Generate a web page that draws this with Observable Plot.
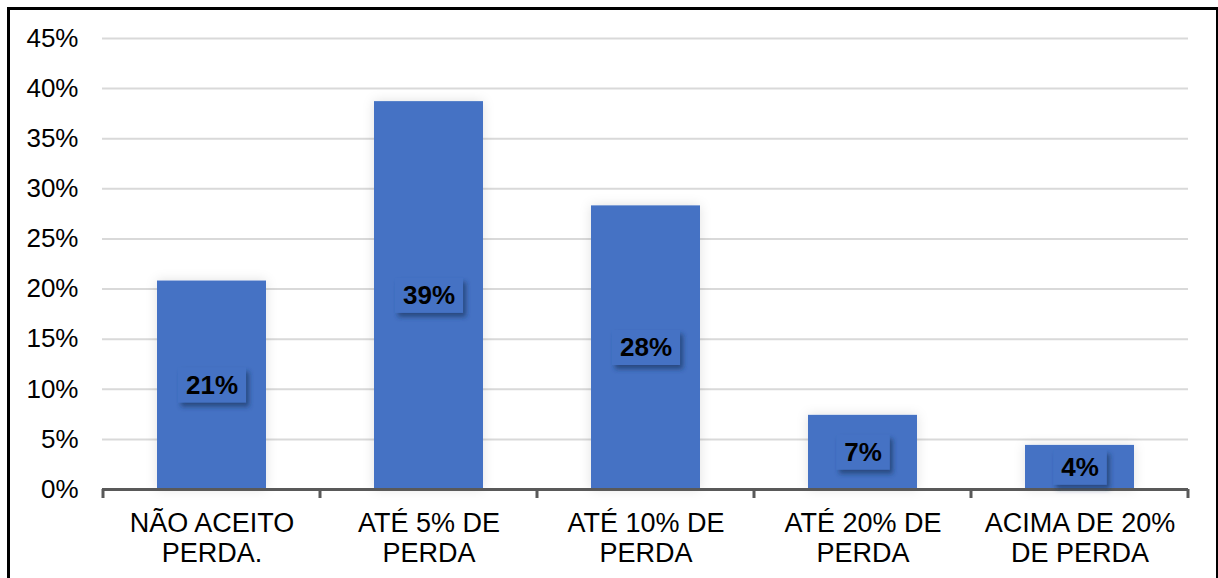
<!DOCTYPE html>
<html>
<head>
<meta charset="utf-8">
<script src="https://cdn.jsdelivr.net/npm/d3@7"></script>
<script src="https://cdn.jsdelivr.net/npm/@observablehq/plot@0.6"></script>
<style>
  html, body { margin: 0; padding: 0; background: #fff; }
  #wrap { position: relative; width: 1218px; height: 578px; overflow: hidden; }
  #frame { position: absolute; left: 7px; top: 7px; width: 1206px; height: 600px; border: 3px solid #000; pointer-events: none; }
  #chart svg { display: block; }
</style>
</head>
<body>
<div id="wrap"><div id="chart"></div><div id="frame"></div></div>
<script>
const categories = ["NÃO ACEITO PERDA.", "ATÉ 5% DE PERDA", "ATÉ 10% DE PERDA", "ATÉ 20% DE PERDA", "ACIMA DE 20% DE PERDA"];
const tickLabels = ["NÃO ACEITO\nPERDA.", "ATÉ 5% DE\nPERDA", "ATÉ 10% DE\nPERDA", "ATÉ 20% DE\nPERDA", "ACIMA DE 20%\nDE PERDA"];
const values = [20.8, 38.7, 28.3, 7.4, 4.4];
const valueLabels = ["21%", "39%", "28%", "7%", "4%"];
const yTicks = [0, 5, 10, 15, 20, 25, 30, 35, 40, 45];

const data = categories.map((c, i) => ({cat: c, v: values[i], label: valueLabels[i], tick: tickLabels[i]}));
const tickMap = new Map(categories.map((c, i) => [c, tickLabels[i]]));

const font = "'Liberation Sans', Arial, sans-serif";

// boundary tick marks below the x axis, positioned through the band scale
function boundaryTicks(index, scales, values, dimensions) {
  const x = scales.x;
  const step = x.step();
  const gap = (step - x.bandwidth()) / 2;
  const y0 = scales.y(0);
  const g = d3.create("svg:g");
  const bounds = categories.map(c => x(c) - gap);
  bounds.push(x(categories[categories.length - 1]) + x.bandwidth() + gap);
  for (const b of bounds) {
    g.append("line").attr("x1", b).attr("x2", b).attr("y1", y0).attr("y2", y0 + 9)
      .attr("stroke", "#595959").attr("stroke-width", 3);
  }
  return g.node();
}

const plot = Plot.plot({
  width: 1218,
  height: 578,
  marginLeft: 102,
  marginRight: 30,
  marginTop: 38,
  marginBottom: 89,
  style: {fontFamily: font, fontSize: "26px", color: "#000", background: "transparent"},
  x: {domain: categories, paddingInner: 0.5, paddingOuter: 0.25, label: null},
  y: {domain: [0, 45], label: null},
  marks: [
    Plot.gridY(yTicks, {stroke: "#d9d9d9", strokeOpacity: 1, strokeWidth: 2}),
    Plot.axisY(yTicks, {tickSize: 0, tickPadding: 24, tickFormat: d => d + "%", fontSize: 26, label: null}),
    Plot.barY(data, {x: "cat", y: "v", fill: "#4472C4", className: "bars"}),
    Plot.ruleY([0], {stroke: "#595959", strokeWidth: 3}),
    boundaryTicks,
    Plot.axisX({tickSize: 0, tickPadding: 21, tickFormat: d => tickMap.get(d), fontSize: 27, lineHeight: 1.12, label: null}),
    Plot.text(data, {x: "cat", y: d => d.v / 2, text: "label", fontSize: 26, fontWeight: "bold", fill: "#000", className: "vlabels"})
  ]
});

document.getElementById("chart").appendChild(plot);

// soft glow around bars
const svg = d3.select(plot);
const defs = svg.insert("defs", ":first-child");
const glow = defs.append("filter").attr("id", "glow").attr("x", "-30%").attr("y", "-30%").attr("width", "160%").attr("height", "160%");
glow.append("feDropShadow").attr("dx", 0).attr("dy", 0).attr("stdDeviation", 6).attr("flood-color", "#000").attr("flood-opacity", 0.12);
const shadow = defs.append("filter").attr("id", "shadow").attr("x", "-30%").attr("y", "-30%").attr("width", "170%").attr("height", "180%");
shadow.append("feDropShadow").attr("dx", 3).attr("dy", 4).attr("stdDeviation", 2.5).attr("flood-color", "#1f3864").attr("flood-opacity", 0.7);
svg.select("g.bars").attr("filter", "url(#glow)");

// label boxes behind value labels (same transform as the text)
svg.selectAll("g.vlabels text").each(function() {
  const bb = this.getBBox();
  const padX = 8;
  const r = d3.select(this.parentNode).insert("rect", () => this)
    .attr("x", bb.x - padX).attr("y", bb.y + bb.height / 2 - 17)
    .attr("width", bb.width + 2 * padX).attr("height", 35)
    .attr("fill", "#4472C4").attr("filter", "url(#shadow)");
  const t = this.getAttribute("transform");
  if (t) r.attr("transform", t);
});
</script>
</body>
</html>
